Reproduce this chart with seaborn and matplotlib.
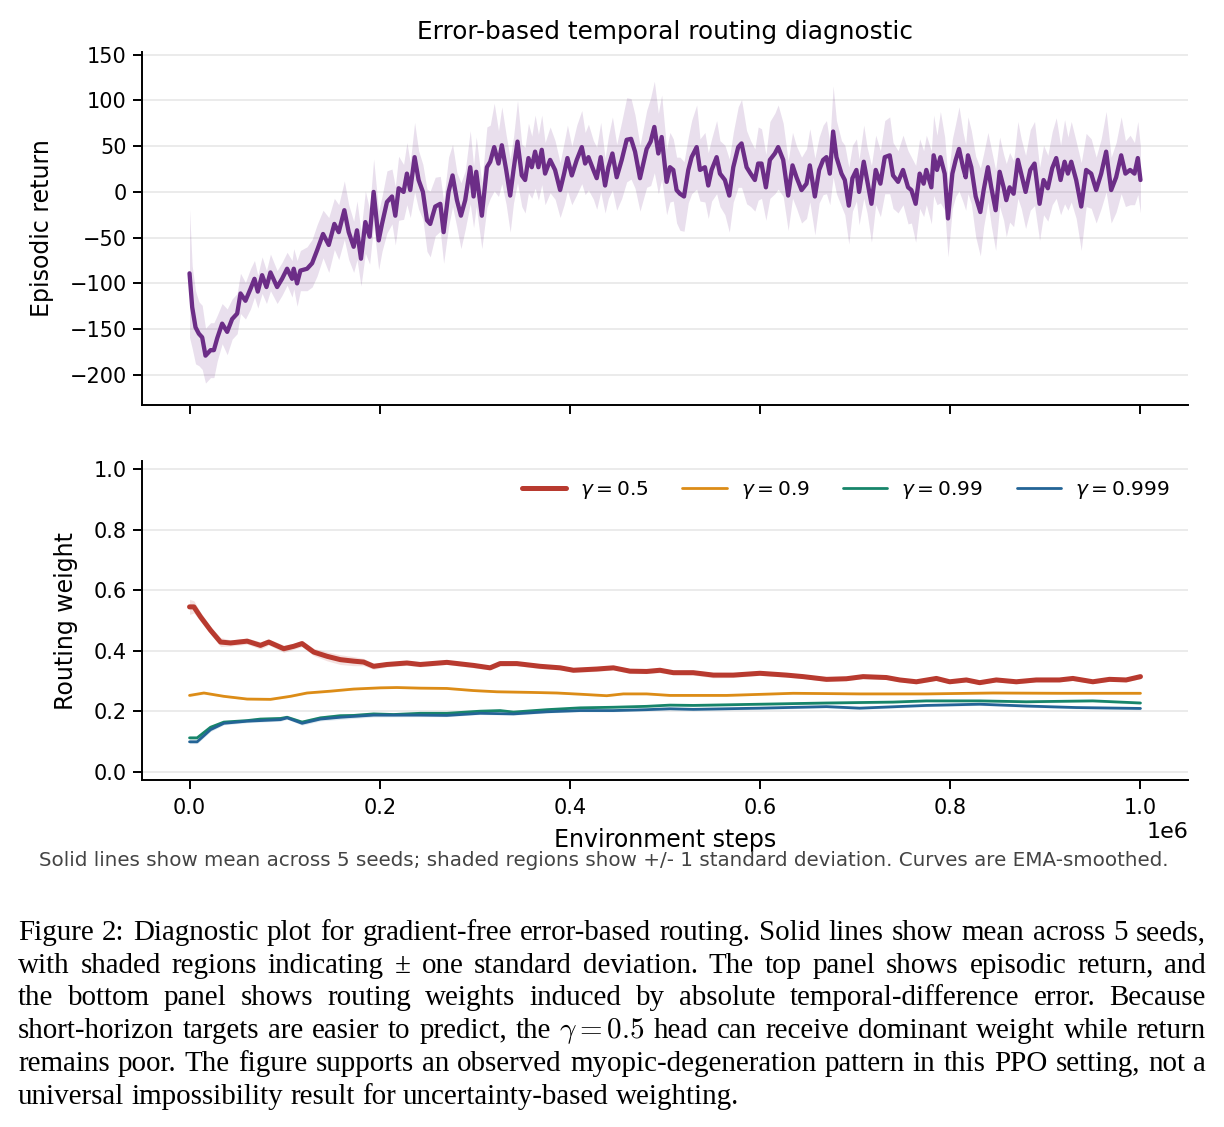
import numpy as np
import pandas as pd
import matplotlib
matplotlib.use("Agg")
import matplotlib.pyplot as plt
from matplotlib.font_manager import FontProperties
import seaborn as sns

# ---- data (steps in thousands) ----
ret_steps = [0, 2.8, 6.3, 9.8, 13.3, 16.8, 22.1, 25.6, 29.1, 34.3,
             39.6, 44.8, 50.1, 53.6, 58.8, 64.1, 68.3, 71.8, 76.3, 80.9,
             85.1, 92.1, 97.3, 102.6, 107.8, 109.6, 113.1, 116.6, 123.6, 128.9,
             134.1, 140.4, 146.4, 152.3, 156.9, 162.8, 167.4, 172.6, 176.1, 180.3,
             184.9, 189.4, 193.6, 198.9, 202.4, 207.6, 212.9, 216.4, 219.9, 225.1,
             228.6, 232.1, 236.7, 240.9, 245.4, 249.7, 253.1, 258.4, 263.7, 267.2,
             272.4, 276.6, 281.2, 285.4, 289.9, 295.2, 298.7, 301.5, 307.4, 312.7,
             316.2, 320.4, 324.9, 328.4, 333.0, 337.2, 340.7, 344.9, 349.4, 352.9,
             356.4, 359.9, 363.4, 366.9, 370.4, 373.9, 379.2, 384.4, 389.7, 393.9,
             397.4, 402.0, 407.2, 412.5, 416.0, 419.5, 424.7, 428.2, 432.4, 437.0,
             440.5, 444.7, 449.2, 454.5, 459.7, 464.3, 468.5, 473.7, 480.7, 484.9,
             488.8, 493.0, 496.5, 501.7, 505.2, 508.7, 512.2, 515.7, 520.0, 524.5,
             528.0, 533.3, 536.8, 542.0, 545.5, 549.0, 554.3, 557.8, 563.0, 567.6,
             571.8, 577.0, 580.5, 585.8, 590.0, 594.5, 598.0, 601.5, 606.1, 610.3,
             615.5, 619.0, 624.3, 629.5, 634.1, 638.3, 643.6, 648.8, 652.3, 657.6,
             662.1, 666.3, 669.8, 673.3, 676.8, 680.3, 685.6, 689.1, 693.3, 697.1,
             701.3, 704.1, 709.0, 712.5, 717.1, 721.6, 726.5, 731.1, 736.3, 739.8,
             745.1, 750.3, 755.6, 759.1, 763.6, 767.8, 772.0, 774.8, 780.1, 782.5,
             786.0, 789.6, 794.1, 797.6, 802.2, 805.7, 809.2, 813.4, 816.2, 818.6,
             822.1, 826.7, 831.6, 835.1, 839.6, 843.1, 847.7, 851.9, 856.1, 858.9,
             862.4, 866.6, 871.1, 874.6, 879.2, 884.1, 888.6, 893.9, 898.1, 902.6,
             907.2, 911.4, 916.0, 920.2, 923.7, 927.2, 932.4, 937.7, 942.9, 948.2,
             953.4, 958.7, 963.9, 969.2, 974.4, 979.7, 984.2, 989.1, 993.7, 997.2,
             1000]
ret_mean = [-89, -126, -148, -155, -159, -179, -173, -173, -160, -144,
            -153, -139, -133, -111, -119, -106, -95, -109, -91, -104,
            -88, -104, -95, -84, -95, -84, -100, -86, -84, -78,
            -64, -46, -58, -35, -44, -20, -44, -60, -42, -73,
            -33, -49, 0, -53, -35, -11, -5, -26, 4, 0,
            20, 2, 38, 13, 0, -31, -35, -16, -13, -44,
            0, 18, -9, -26, -9, 27, -5, 22, -26, 27,
            33, 49, 31, 51, 24, -4, 24, 55, 18, 13,
            37, 27, 44, 27, 46, 20, 35, 24, 2, 20,
            37, 18, 35, 49, 31, 38, 24, 15, 38, 7,
            27, 42, 16, 35, 57, 58, 44, 15, 47, 55,
            71, 42, 60, 11, 27, 24, 2, -2, -5, 24,
            38, 49, 24, 27, 7, 24, 38, 20, 13, -4,
            27, 49, 53, 27, 20, 13, 31, 31, 5, 35,
            42, 49, 35, -4, 29, 16, 2, 9, 29, -5,
            24, 35, 38, 20, 66, 38, 20, 13, -15, 15,
            24, 0, 33, 13, -13, 24, 9, 38, 40, 18,
            11, 24, 5, 2, -13, 20, 9, 24, 5, 40,
            24, 38, 20, -29, 20, 35, 47, 27, 16, 40,
            27, -5, -22, 2, 27, 5, -20, 22, 5, -9,
            5, -2, 35, 20, 0, 24, 31, -13, 13, 4,
            26, 37, 13, 33, 20, 33, 13, -16, 24, 20,
            2, 20, 44, 2, 16, 40, 20, 24, 20, 37,
            13]
ret_std = [70, 45, 40, 35, 35, 30, 30, 30, 25, 22,
           25, 22, 22, 22, 20, 22, 20, 18, 20, 18,
           20, 18, 18, 18, 20, 22, 25, 22, 24, 26,
           28, 26, 30, 28, 30, 32, 30, 28, 32, 30,
           34, 30, 36, 32, 30, 34, 30, 32, 35, 30,
           34, 30, 38, 32, 30, 34, 36, 32, 30, 34,
           38, 34, 30, 36, 32, 40, 34, 38, 36, 44,
           40, 48, 36, 42, 38, 40, 36, 45, 34, 36,
           38, 34, 40, 36, 38, 34, 36, 32, 30, 34,
           36, 32, 38, 40, 34, 36, 32, 34, 38, 30,
           34, 40, 36, 42, 46, 44, 40, 36, 42, 48,
           50, 44, 46, 36, 38, 34, 36, 40, 38, 36,
           40, 46, 34, 38, 36, 34, 40, 36, 38, 40,
           38, 44, 48, 40, 36, 34, 40, 38, 36, 42,
           44, 46, 40, 38, 36, 34, 36, 38, 40, 42,
           36, 38, 40, 34, 50, 40, 36, 38, 42, 36,
           34, 36, 40, 36, 42, 38, 36, 40, 42, 36,
           34, 38, 40, 36, 42, 38, 36, 38, 40, 44,
           38, 50, 40, 42, 38, 40, 46, 38, 36, 42,
           40, 44, 48, 40, 38, 42, 44, 38, 36, 40,
           38, 36, 42, 38, 40, 44, 46, 40, 38, 36,
           40, 44, 38, 46, 40, 44, 42, 48, 40, 38,
           36, 38, 44, 36, 38, 42, 36, 38, 34, 40,
           36]

w05_steps = [0, 4.6, 11.6, 22.1, 32.6, 43.1, 60.6, 74.6, 83.3, 99.1,
             109.6, 118.3, 130.6, 144.6, 158.6, 172.6, 183.1, 193.6, 207.6, 228.6,
             242.6, 270.6, 298.6, 316.1, 326.6, 344.2, 368.7, 389.7, 403.7, 428.2,
             445.7, 463.2, 480.7, 494.7, 508.7, 529.7, 550.8, 571.8, 599.8, 627.8,
             645.3, 669.8, 690.8, 708.3, 732.8, 746.8, 764.3, 785.4, 799.4, 816.9,
             830.9, 848.4, 869.4, 890.4, 914.9, 928.9, 949.9, 967.4, 984.9, 1000]
w05_mean = [0.545, 0.545, 0.512, 0.468, 0.429, 0.426, 0.432, 0.418, 0.429, 0.407,
            0.415, 0.424, 0.396, 0.382, 0.371, 0.366, 0.363, 0.349, 0.355, 0.36,
            0.355, 0.362, 0.352, 0.344, 0.358, 0.358, 0.349, 0.344, 0.336, 0.34,
            0.344, 0.333, 0.332, 0.336, 0.328, 0.328, 0.32, 0.32, 0.326, 0.32,
            0.315, 0.306, 0.308, 0.315, 0.312, 0.304, 0.298, 0.309, 0.298, 0.304,
            0.295, 0.304, 0.298, 0.304, 0.304, 0.309, 0.298, 0.306, 0.304, 0.315]
w05_std = [0.025, 0.02, 0.015, 0.012, 0.015, 0.01, 0.01, 0.012, 0.01, 0.012,
           0.01, 0.01, 0.012, 0.015, 0.016, 0.015, 0.012, 0.01, 0.008, 0.008,
           0.008, 0.007, 0.008, 0.007, 0.008, 0.007, 0.008, 0.007, 0.007, 0.008,
           0.007, 0.008, 0.007, 0.008, 0.007, 0.008, 0.009, 0.008, 0.007, 0.007,
           0.006, 0.007, 0.006, 0.007, 0.006, 0.006, 0.007, 0.006, 0.006, 0.007,
           0.006, 0.006, 0.007, 0.006, 0.006, 0.007, 0.006, 0.006, 0.006, 0.007]

w09_steps = [0, 15.1, 36.1, 60.6, 85.1, 106.1, 123.6, 148.1, 172.6, 200.6,
             218.1, 242.6, 270.6, 298.6, 323.2, 358.2, 386.2, 410.7, 438.7, 456.2,
             480.7, 505.2, 564.8, 634.8, 704.8, 774.8, 844.9, 914.9, 1000]
w09_mean = [0.253, 0.261, 0.25, 0.241, 0.24, 0.25, 0.261, 0.267, 0.274, 0.278,
            0.279, 0.277, 0.276, 0.269, 0.265, 0.263, 0.261, 0.257, 0.252, 0.258,
            0.258, 0.253, 0.253, 0.26, 0.258, 0.258, 0.261, 0.26, 0.26]
w09_std = [0.004, 0.004, 0.003, 0.003, 0.003, 0.003, 0.003, 0.004, 0.003, 0.003,
           0.003, 0.003, 0.003, 0.003, 0.003, 0.003, 0.003, 0.003, 0.003, 0.003,
           0.003, 0.003, 0.003, 0.003, 0.003, 0.003, 0.003, 0.003, 0.003]

w099_steps = [0, 8, 22.1, 36.1, 60.6, 74.6, 95.6, 102.6, 118.3, 137.6,
              158.6, 172.6, 193.6, 214.6, 242.6, 270.6, 305.7, 326.6, 340.7, 375.7,
              410.7, 445.7, 480.7, 505.2, 529.7, 599.8, 669.8, 739.8, 774.8, 830.9,
              879.9, 949.9, 1000]
w099_mean = [0.113, 0.113, 0.148, 0.165, 0.17, 0.175, 0.177, 0.181, 0.165, 0.179,
             0.186, 0.187, 0.192, 0.19, 0.194, 0.194, 0.201, 0.203, 0.198, 0.206,
             0.212, 0.214, 0.217, 0.221, 0.220, 0.224, 0.228, 0.231, 0.235, 0.235,
             0.232, 0.235, 0.228]
w099_std = [0.006, 0.006, 0.006, 0.005, 0.005, 0.005, 0.005, 0.005, 0.006, 0.006,
            0.007, 0.006, 0.005, 0.005, 0.004, 0.004, 0.004, 0.004, 0.004, 0.004,
            0.004, 0.004, 0.004, 0.004, 0.004, 0.004, 0.004, 0.004, 0.004, 0.004,
            0.004, 0.004, 0.004]

w0999_steps = [0, 8, 22.1, 36.1, 60.6, 95.6, 102.6, 118.3, 137.6, 158.6,
               193.6, 242.6, 270.6, 305.7, 340.7, 375.7, 410.7, 445.7, 480.7, 505.2,
               529.7, 599.8, 669.8, 704.8, 774.8, 830.9, 879.9, 932.4, 1000]
w0999_mean = [0.10, 0.10, 0.14, 0.161, 0.168, 0.173, 0.179, 0.161, 0.175, 0.181,
              0.188, 0.188, 0.187, 0.194, 0.192, 0.199, 0.203, 0.203, 0.206, 0.209,
              0.207, 0.211, 0.216, 0.211, 0.220, 0.224, 0.218, 0.213, 0.210]
w0999_std = [0.006, 0.006, 0.006, 0.005, 0.005, 0.005, 0.005, 0.006, 0.006, 0.007,
             0.006, 0.005, 0.004, 0.004, 0.004, 0.004, 0.004, 0.004, 0.004, 0.004,
             0.004, 0.004, 0.004, 0.004, 0.004, 0.004, 0.004, 0.004, 0.004]

gamma_labels = [r'$\gamma = 0.5$', r'$\gamma = 0.9$', r'$\gamma = 0.99$', r'$\gamma = 0.999$']
gamma_colors = ['#b83a2f', '#dc8c17', '#17856a', '#236496']
gamma_widths = [3.6, 2.0, 2.0, 2.0]

caption_lines = [
    "Figure 2: Diagnostic plot for gradient-free error-based routing. Solid lines show mean across 5 seeds,",
    "with shaded regions indicating \u00b1 one standard deviation. The top panel shows episodic return, and",
    "the bottom panel shows routing weights induced by absolute temporal-difference error. Because",
    r"short-horizon targets are easier to predict, the $\gamma=0.5$ head can receive dominant weight while return",
    "remains poor. The figure supports an observed myopic-degeneration pattern in this PPO setting, not a",
    "universal impossibility result for uncertainty-based weighting.",
]

# ---- style ----
sns.set_theme(style="ticks")
plt.rcParams['font.family'] = ['DejaVu Sans']
plt.rcParams['mathtext.fontset'] = 'dejavusans'
plt.rcParams.update({'text.color': 'black', 'axes.labelcolor': 'black',
                     'xtick.color': 'black', 'ytick.color': 'black'})

fig = plt.figure(figsize=(12.24, 11.27), dpi=100)
ax1 = fig.add_axes([0.116, 0.6406, 0.8546, 0.3133])
ax2 = fig.add_axes([0.116, 0.3079, 0.8546, 0.2830], sharex=ax1)

tick_size = 15
label_size = 17

# top panel: episodic return
ret = pd.DataFrame({'step': np.array(ret_steps) * 1e3, 'ret': ret_mean})
lo = np.array(ret_mean) - np.array(ret_std)
hi = np.array(ret_mean) + np.array(ret_std)
ax1.fill_between(ret['step'], lo, hi, color='#6c2d87', alpha=0.15, linewidth=0)
sns.lineplot(data=ret, x='step', y='ret', ax=ax1, color='#6c2d87', linewidth=3.1)
ax1.set_ylim(-233, 153)
ax1.set_yticks([-200, -150, -100, -50, 0, 50, 100, 150])
ax1.set_ylabel('Episodic return', fontsize=label_size)
ax1.yaxis.set_label_coords(-0.084, 0.5)
ax1.set_xlabel('')
ax1.tick_params(axis='x', labelbottom=False)

# bottom panel: routing weights
series = [(w05_steps, w05_mean, w05_std), (w09_steps, w09_mean, w09_std),
          (w099_steps, w099_mean, w099_std), (w0999_steps, w0999_mean, w0999_std)]
for (st, mu, sd), lab, col, lw in zip(series, gamma_labels, gamma_colors, gamma_widths):
    df = pd.DataFrame({'step': np.array(st) * 1e3, 'w': mu})
    ax2.fill_between(df['step'], np.array(mu) - np.array(sd), np.array(mu) + np.array(sd),
                     color=col, alpha=0.15, linewidth=0)
    sns.lineplot(data=df, x='step', y='w', ax=ax2, color=col, linewidth=lw, label=lab)
ax2.set_ylim(-0.026, 1.026)
ax2.set_yticks([0.0, 0.2, 0.4, 0.6, 0.8, 1.0])
ax2.set_ylabel('Routing weight', fontsize=label_size)
ax2.yaxis.set_label_coords(-0.061, 0.5)
ax2.set_xlabel('Environment steps', fontsize=label_size, labelpad=7)
ax2.set_xlim(-0.05e6, 1.05e6)
ax2.set_xticks([0, 0.2e6, 0.4e6, 0.6e6, 0.8e6, 1.0e6])
ax2.ticklabel_format(axis='x', style='sci', scilimits=(0, 0), useMathText=False)
ax2.xaxis.get_offset_text().set_fontsize(16)
ax2.legend(ncol=4, frameon=False, loc='upper right', fontsize=tick_size - 0.5,
           handlelength=2.2, handletextpad=0.7, columnspacing=1.65,
           bbox_to_anchor=(1.0, 1.0))

for ax in (ax1, ax2):
    ax.grid(axis='y', color='#ebebeb', linewidth=1.4)
    ax.set_axisbelow(True)
    sns.despine(ax=ax)
    for s in ('left', 'bottom'):
        ax.spines[s].set_linewidth(1.4)
        ax.spines[s].set_color('black')
    ax.tick_params(labelsize=tick_size, length=6.5, width=1.4, color='black', pad=4.5)
ax2.tick_params(axis='x', pad=6.5)

fig.text(0.5434, 1 - 32 / 1127, 'Error-based temporal routing diagnostic',
         fontsize=17.8, ha='center', va='center')
fig.text(0.4935, 1 - 860 / 1127,
         'Solid lines show mean across 5 seeds; shaded regions show +/- 1 standard deviation. Curves are EMA-smoothed.',
         fontsize=14.3, color='#444444', ha='center', va='center')

# ---- justified serif caption ----
fig.canvas.draw()
renderer = fig.canvas.get_renderer()
W = fig.bbox.width
H = fig.bbox.height
cap_size = 20.9
cap_prop = FontProperties(family='Liberation Serif', size=cap_size)
cap_prop.set_math_fontfamily('cm')
x_left, x_right = 18, 1206
base0, dy = 940, 32.7
for i, line in enumerate(caption_lines):
    y = 1 - (base0 + i * dy) / H
    words = line.split(' ')
    texts = [fig.text(0, y, w, fontproperties=cap_prop, va='baseline', ha='left') for w in words]
    widths = [t.get_window_extent(renderer).width for t in texts]
    natural = 0.25 * cap_size * 100 / 72
    if i < len(caption_lines) - 1:
        gap = (x_right - x_left - sum(widths)) / (len(words) - 1)
    else:
        gap = natural
    x = x_left
    for t, w in zip(texts, widths):
        t.set_x(x / W)
        x += w + gap

fig.savefig('out.png', dpi=100)
